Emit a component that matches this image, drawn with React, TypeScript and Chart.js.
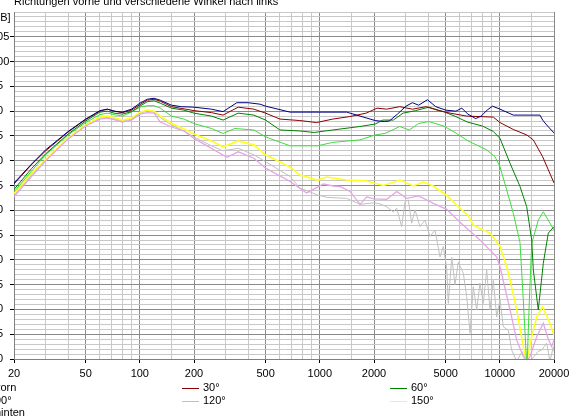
import React, { useEffect, useRef } from 'react';
import { Chart, registerables } from 'chart.js';

Chart.register(...registerables);

const FONT = '"Liberation Sans", Arial, Helvetica, sans-serif';

const TITLE = 'Richtungen vorne und verschiedene Winkel nach links';
const Y_UNIT = '[dB]';

// Axis grid / tick labels
const GRID_FREQS = [20, 30, 40, 50, 60, 70, 80, 90, 100, 150, 200, 300, 400, 500, 600, 700, 800, 900, 1000, 1500, 2000, 3000, 4000, 5000, 6000, 7000, 8000, 9000, 10000, 15000, 20000];
const LABEL_FREQS = [20, 50, 100, 200, 500, 1000, 2000, 5000, 10000, 20000];
const Y_MIN = 40;
const Y_MAX = 110;
const Y_GRID = Array.from({ length: Y_MAX - Y_MIN + 1 }, (_, i) => Y_MIN + i);

// Series: vorn (0°)
const F_VORN = [20, 25, 30, 40, 50, 60, 66, 72, 80, 90, 100, 110, 120, 130, 150, 170, 200, 250, 290, 346, 400, 466, 500, 684, 1000, 1410, 1674, 2030, 2280, 2430, 2700, 3010, 3270, 3540, 3960, 4410, 5010, 5700, 6150, 6650, 7340, 7870, 8500, 9100, 10024, 11884, 12948, 16716, 17300, 18216, 20000];
const DB_VORN = [75.5, 79.3, 82.2, 85.9, 88.4, 90.1, 90.4, 90.0, 89.8, 90.4, 91.6, 92.4, 92.6, 92.2, 91.2, 90.9, 90.8, 90.4, 89.9, 91.7, 91.7, 91.4, 91.0, 89.8, 89.8, 89.8, 89.0, 88.1, 87.9, 88.0, 89.4, 91.0, 91.7, 91.2, 92.3, 90.9, 90.2, 90.0, 90.6, 89.4, 88.5, 89.0, 90.2, 91.0, 90.4, 89.2, 89.2, 89.2, 88.2, 87.2, 85.6];

// Series: 30°
const F_30 = [20, 25, 30, 40, 50, 60, 66, 72, 80, 90, 100, 110, 120, 130, 150, 180, 200, 250, 290, 352, 430, 500, 600, 775, 960, 1180, 1465, 1810, 2080, 2350, 2780, 3270, 3900, 4580, 5300, 6550, 9200, 10024, 11884, 14106, 15348, 17300, 20000];
const DB_30 = [75.3, 79.2, 82.0, 85.8, 88.3, 90.0, 90.4, 90.0, 89.7, 90.2, 91.3, 92.2, 92.4, 92.0, 90.9, 90.4, 90.1, 89.7, 89.2, 90.8, 90.4, 89.6, 88.4, 88.1, 87.7, 88.4, 88.9, 89.6, 90.6, 90.4, 90.9, 90.4, 90.9, 90.1, 89.6, 89.0, 88.8, 87.7, 86.3, 85.2, 84.2, 80.8, 75.5];

// Series: 60°
const F_60 = [20, 25, 30, 40, 50, 60, 66, 72, 80, 90, 100, 110, 120, 130, 150, 176, 200, 250, 290, 352, 430, 500, 600, 775, 930, 1180, 1670, 2030, 2240, 2560, 2900, 3400, 4030, 4870, 5700, 6600, 8000, 9200, 10024, 11392, 12948, 14106, 15034, 15348, 16356, 17440, 18594, 20000];
const DB_60 = [74.2, 78.4, 81.4, 85.4, 88.0, 89.8, 90.0, 89.6, 89.4, 89.9, 91.0, 91.9, 92.1, 91.6, 90.6, 90.2, 89.6, 89.0, 88.2, 89.6, 89.2, 88.2, 86.2, 86.0, 85.7, 86.2, 86.9, 87.4, 88.2, 88.2, 89.6, 90.1, 90.8, 89.9, 88.9, 87.8, 87.0, 85.9, 84.5, 79.5, 74.8, 70.7, 64.0, 58.0, 49.9, 59.3, 65.4, 66.7];

// Series: 90°
const F_90 = [20, 25, 30, 40, 50, 60, 66, 72, 80, 90, 100, 110, 120, 130, 150, 176, 200, 250, 290, 337, 430, 500, 684, 970, 1180, 1670, 2030, 2300, 2780, 3140, 3540, 4030, 4870, 5700, 6650, 8450, 9400, 10024, 10922, 11884, 12948, 13500, 14150, 14600, 15034, 16356, 17440, 19004, 20000];
const DB_90 = [73.7, 77.9, 81.2, 85.2, 87.7, 89.3, 89.6, 89.3, 89.0, 89.8, 90.8, 91.1, 91.1, 90.6, 89.0, 88.4, 87.5, 86.5, 85.5, 86.5, 86.2, 84.8, 83.0, 83.0, 83.7, 84.2, 85.2, 85.5, 86.9, 86.2, 87.5, 87.9, 87.0, 85.6, 84.0, 82.2, 80.8, 78.8, 74.1, 69.4, 63.5, 52.0, 38.0, 52.0, 63.3, 68.0, 69.7, 67.4, 66.0];

// Series: 120°
const F_120 = [20, 25, 30, 40, 50, 60, 66, 72, 80, 90, 100, 110, 120, 130, 150, 176, 200, 250, 305, 352, 430, 500, 684, 845, 1046, 1188, 1295, 1472, 1672, 1822, 1990, 2354, 2674, 3038, 3540, 4270, 5070, 6010, 7760, 9600, 10024, 11400, 12412, 13500, 14100, 14700, 16030, 17440, 18600, 19400, 20000];
const DB_120 = [72.7, 76.8, 80.0, 84.4, 87.0, 88.4, 88.6, 88.3, 87.8, 88.2, 89.4, 89.7, 89.6, 87.8, 86.8, 86.0, 84.5, 82.5, 80.7, 81.8, 80.5, 78.5, 75.8, 73.5, 75.3, 74.9, 74.8, 73.8, 71.2, 72.7, 72.3, 72.2, 73.8, 72.4, 72.9, 71.4, 70.2, 67.6, 64.0, 60.6, 58.6, 49.9, 43.8, 40.5, 39.5, 40.5, 44.5, 47.2, 44.0, 42.5, 43.8];

// Series: 150°
const F_150 = [20, 25, 30, 40, 50, 60, 66, 72, 80, 90, 100, 110, 120, 130, 150, 176, 200, 250, 290, 352, 430, 500, 684, 776, 970, 1092, 1410, 1822, 2253, 2790, 3308, 3758, 4270, 5070, 6010, 6650, 7122, 8820, 10024, 10922, 11392, 12412, 13506, 14106, 15034, 16030, 17300, 19004, 20000];
const DB_150 = [73.4, 77.5, 80.2, 84.6, 87.2, 88.8, 89.0, 88.7, 88.2, 88.6, 89.8, 90.2, 90.0, 89.0, 87.5, 86.4, 85.4, 84.0, 82.8, 84.0, 83.2, 81.2, 78.7, 77.1, 76.1, 76.7, 76.1, 75.9, 75.0, 76.1, 74.9, 75.7, 74.9, 73.0, 70.4, 69.0, 67.0, 65.4, 62.7, 58.6, 55.9, 49.9, 42.5, 39.5, 44.5, 48.5, 50.5, 47.2, 44.8];

// Series: hinten
const F_HINTEN = [20, 25, 30, 40, 50, 60, 66, 72, 80, 90, 100, 110, 120, 130, 150, 176, 200, 250, 290, 352, 430, 500, 684, 775, 970, 1100, 1410, 1674, 1990, 2160, 2354, 2560, 2674, 2850, 2974, 3102, 3240, 3380, 3602, 3840, 4094, 4364, 4652, 4853, 5070, 5174, 5404, 5636, 5880, 6268, 6546, 6832, 7122, 7440, 7760, 8094, 8454, 8820, 9200, 9608, 10024, 10456, 11144, 11642, 12412, 13284, 14342, 15486, 16300, 17090, 18216, 19004, 19822, 20000];
const DB_HINTEN = [73.0, 77.1, 80.1, 84.5, 87.1, 88.6, 88.8, 88.5, 88.0, 88.4, 89.6, 90.0, 89.8, 88.7, 87.2, 86.0, 84.8, 83.0, 82.0, 82.5, 81.2, 79.8, 76.8, 74.5, 73.1, 72.6, 72.4, 71.2, 71.5, 71.3, 70.7, 69.7, 70.4, 66.7, 71.7, 72.1, 67.4, 70.1, 66.7, 68.0, 64.7, 66.0, 60.6, 62.7, 58.3, 51.2, 60.5, 55.0, 59.5, 57.3, 52.6, 45.2, 54.6, 49.9, 55.3, 51.2, 58.0, 49.9, 55.9, 48.5, 51.9, 46.5, 45.8, 41.8, 39.5, 41.5, 39.0, 40.5, 41.5, 41.8, 43.2, 39.5, 42.5, 41.5];

const SERIES_LABELS = ['vorn', '30°', '60°', '90°', '120°', '150°', 'hinten'];
const SERIES_COLORS = ['#000080', '#8b0000', '#008000', '#3ddc3d', '#e4a6e4', '#ffff20', '#c0c0c0'];
const SERIES_WIDTHS = [1, 1, 1, 1, 1.3, 1.6, 1];
const SERIES_FREQS = [F_VORN, F_30, F_60, F_90, F_120, F_150, F_HINTEN];
const SERIES_DB = [DB_VORN, DB_30, DB_60, DB_90, DB_120, DB_150, DB_HINTEN];

const MAJOR = '#8a8a8a';
const MINOR = '#c8c8c8';

// the picture is a crop: the canvas starts a few pixels left of the page edge
const CROP_LEFT = 9;
const PAGE_W = 583;
const PAGE_H = 419;

const toPoints = (fs: number[], ds: number[]) => {
  const n = Math.min(fs.length, ds.length);
  const pts: { x: number; y: number }[] = [];
  for (let i = 0; i < n; i++) pts.push({ x: fs[i], y: ds[i] });
  return pts;
};

const overlayPlugin = {
  id: 'overlayText',
  afterDraw(chart: any) {
    const { ctx, chartArea } = chart;
    ctx.save();
    ctx.fillStyle = '#000';
    ctx.font = `11px ${FONT}`;
    // title (cut at the top edge)
    ctx.textAlign = 'left';
    ctx.textBaseline = 'alphabetic';
    ctx.fillText(TITLE, chartArea.left, 5);
    // unit label, left aligned like the tick labels
    ctx.textBaseline = 'middle';
    ctx.fillText(Y_UNIT, 0, chartArea.top + 5.5);
    // legend: 3 columns, row-major
    const colX = [chartArea.left - 40, chartArea.left + 168, chartArea.left + 376];
    const rowY = [chartArea.bottom + 29, chartArea.bottom + 41.5, chartArea.bottom + 54];
    SERIES_LABELS.forEach((label, i) => {
      const c = i % 3;
      const r = Math.floor(i / 3);
      const x = colX[c];
      const y = rowY[r];
      ctx.strokeStyle = SERIES_COLORS[i];
      ctx.lineWidth = 1;
      ctx.beginPath();
      ctx.moveTo(x, Math.round(y) + 0.5);
      ctx.lineTo(x + 17, Math.round(y) + 0.5);
      ctx.stroke();
      ctx.fillText(label, x + 21, y);
    });
    ctx.restore();
  },
};

export default function App() {
  const ref = useRef<HTMLCanvasElement | null>(null);

  useEffect(() => {
    if (!ref.current) return;
    const datasets = SERIES_LABELS.map((label, i) => ({
      label,
      data: toPoints(SERIES_FREQS[i], SERIES_DB[i]),
      borderColor: SERIES_COLORS[i],
      backgroundColor: SERIES_COLORS[i],
      borderWidth: SERIES_WIDTHS[i],
      pointRadius: 0,
      tension: 0,
      fill: false,
    }));
    const chart = new Chart(ref.current, {
      type: 'line',
      data: { datasets },
      plugins: [overlayPlugin],
      options: {
        animation: false,
        responsive: false,
        parsing: false,
        normalized: true,
        layout: { padding: { top: 12, right: 29, left: 0, bottom: 0 } },
        plugins: {
          legend: { display: false },
          tooltip: { enabled: false },
          title: { display: false },
        },
        scales: {
          x: {
            type: 'logarithmic',
            min: 20,
            max: 20000,
            afterBuildTicks: (s: any) => {
              s.ticks = GRID_FREQS.map((v) => ({ value: v }));
            },
            afterFit: (s: any) => {
              s.height = 60;
            },
            ticks: {
              autoSkip: false,
              maxRotation: 0,
              minRotation: 0,
              padding: 4,
              color: '#000',
              font: { family: FONT, size: 11 },
              callback: (v: any) => (LABEL_FREQS.includes(Number(v)) ? String(v) : ''),
            },
            grid: {
              color: (c: any) => (LABEL_FREQS.includes(c.tick?.value) ? MAJOR : MINOR),
              tickColor: (c: any) => (LABEL_FREQS.includes(c.tick?.value) ? '#000' : 'rgba(0,0,0,0)'),
              tickLength: 4,
              lineWidth: 1,
            },
            border: { color: '#808080' },
          },
          y: {
            type: 'linear',
            min: Y_MIN,
            max: Y_MAX,
            afterBuildTicks: (s: any) => {
              s.ticks = Y_GRID.map((v) => ({ value: v }));
            },
            afterFit: (s: any) => {
              s.width = 14 + CROP_LEFT;
            },
            ticks: {
              autoSkip: false,
              padding: 0,
              crossAlign: 'far',
              color: '#000',
              font: { family: FONT, size: 11 },
              callback: (v: any) => (Number(v) % 5 === 0 && Number(v) < Y_MAX ? String(v) : ''),
            },
            grid: {
              color: (c: any) => {
                const v = c.tick?.value;
                return v % 5 === 0 && v < Y_MAX ? MAJOR : MINOR;
              },
              tickColor: (c: any) => {
                const v = c.tick?.value;
                return v % 5 === 0 && v < Y_MAX ? '#000' : 'rgba(0,0,0,0)';
              },
              tickLength: 4,
              lineWidth: 1,
            },
            border: { color: '#808080' },
          },
        },
      } as any,
    });
    return () => chart.destroy();
  }, []);

  return (
    <div
      style={{
        position: 'fixed',
        left: 0,
        top: 0,
        width: PAGE_W,
        height: PAGE_H,
        overflow: 'hidden',
        background: '#fff',
      }}
    >
      <canvas
        ref={ref}
        width={PAGE_W + CROP_LEFT}
        height={PAGE_H}
        style={{ display: 'block', position: 'absolute', left: -CROP_LEFT, top: 0 }}
      />
    </div>
  );
}
